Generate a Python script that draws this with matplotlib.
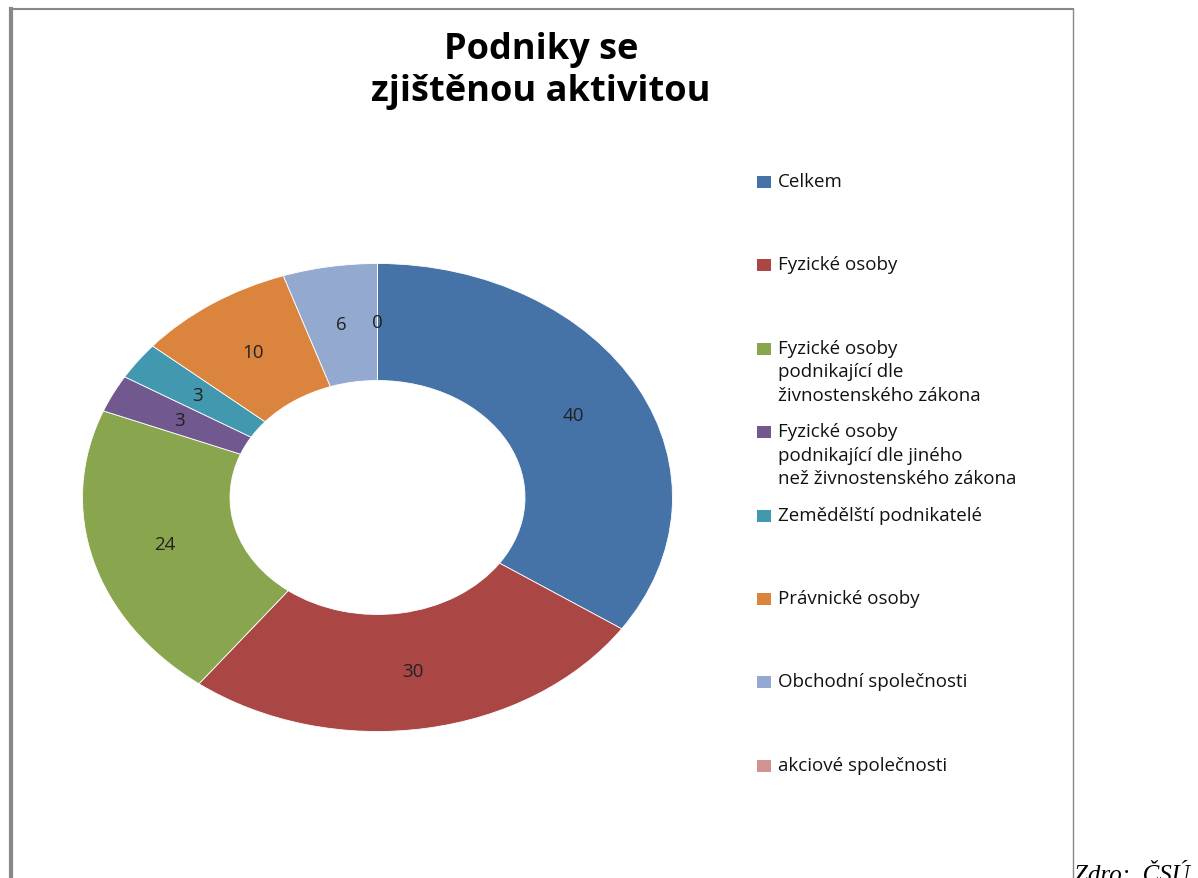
# Podniky se zjištěnou aktivitou - donut chart
import numpy as np
import matplotlib.pyplot as plt
from matplotlib.lines import Line2D
from matplotlib.patches import Rectangle

categories = ['Celkem', 'Fyzické osoby',
              'Fyzické osoby\npodnikající dle\nživnostenského zákona',
              'Fyzické osoby\npodnikající dle jiného\nnež živnostenského zákona',
              'Zemědělští podnikatelé', 'Právnické osoby',
              'Obchodní společnosti', 'akciové společnosti']
values = [40, 30, 24, 3, 3, 10, 6, 0]
colors = ['#4572A7', '#AA4643', '#89A54E', '#71588F',
          '#4198AF', '#DB843D', '#93A9CF', '#D19392']

W, H = 1198, 879
plt.rcParams['font.family'] = ['Open Sans', 'DejaVu Sans']
fig = plt.figure(figsize=(W / 100, H / 100), dpi=100)

def fx(px):
    return px / W

def fy(py):
    return 1 - py / H

# donut axes, stretched to an ellipse like the original
cx, cy, rx, ry = 377.5, 498.5, 295, 234
ax = fig.add_axes([fx(cx - rx), fy(cy + ry), 2 * rx / W, 2 * ry / H])
wedges, _ = ax.pie(values, colors=colors, startangle=90, counterclock=False,
                   radius=1, wedgeprops=dict(width=0.5, edgecolor='white', linewidth=0.6))
ax.set_aspect('auto')
ax.set_xlim(-1, 1)
ax.set_ylim(-1, 1)
ax.axis('off')

for w, v in zip(wedges, values):
    ang = np.deg2rad((w.theta1 + w.theta2) / 2)
    ax.text(0.75 * np.cos(ang), 0.75 * np.sin(ang), str(v),
            ha='center', va='center', fontsize=13.5, color='#222222')

# title
fig.text(fx(541), fy(71), 'Podniky se\nzjištěnou aktivitou', ha='center', va='center',
         fontsize=26, fontweight='bold', linespacing=1.2)

# legend
for i, (lab, col) in enumerate(zip(categories, colors)):
    y = 183 + i * 83.4
    fig.add_artist(Rectangle((fx(757), fy(y + 6)), 14 / W, 12 / H,
                             transform=fig.transFigure, facecolor=col, edgecolor='none'))
    fig.text(fx(778), fy(y - 10), lab, ha='left', va='top', fontsize=13.5,
             linespacing=1.4, color='#111111')

# chart frame
fc = '#888888'
fig.add_artist(Line2D([fx(11), fx(11)], [fy(10), 0], color=fc, lw=3))
fig.add_artist(Line2D([fx(10), fx(1073)], [fy(10), fy(10)], color=fc, lw=1.5))
fig.add_artist(Line2D([fx(1073), fx(1073)], [fy(10), 0], color=fc, lw=1))

fig.text(fx(1074), fy(882), 'Zdro:  ČSÚ', ha='left', va='baseline', fontsize=18,
         family=['Liberation Serif', 'DejaVu Serif'], style='italic')

fig.savefig('out.png', dpi=100)
